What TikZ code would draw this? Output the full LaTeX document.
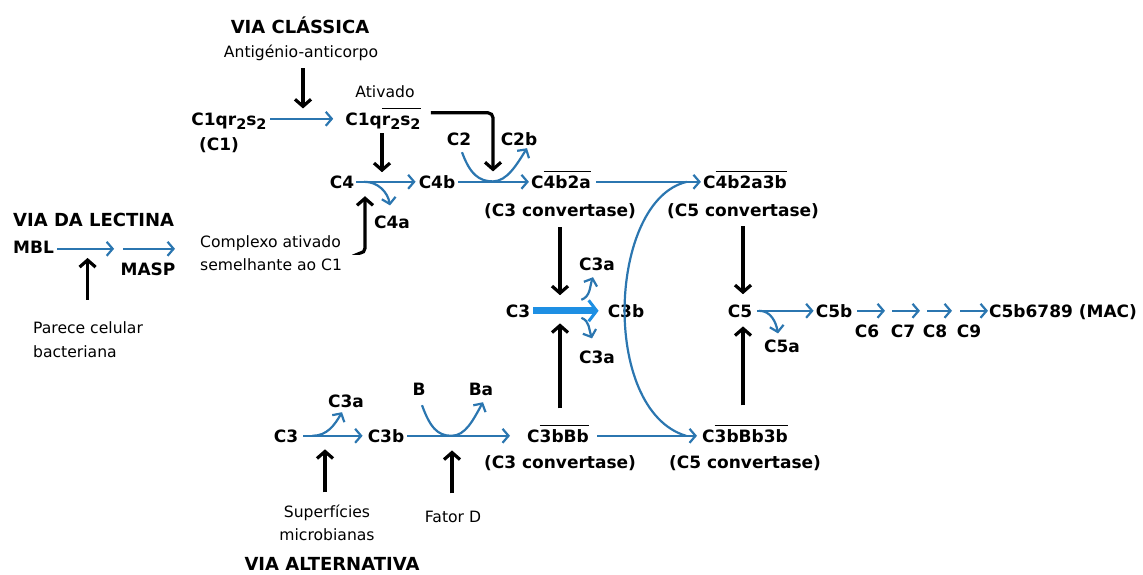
\documentclass[tikz,border=0pt]{standalone}
\usepackage{fontspec}
\setmainfont{DejaVu Sans}
\usetikzlibrary{arrows.meta,calc}
\definecolor{pathblue}{HTML}{2B76B0}
\definecolor{brightblue}{HTML}{1E8FE3}
% overline drawn as a rule above a group of characters
\newsavebox\ovlbox
\newcommand\ovl[1]{\sbox\ovlbox{#1}\rlap{\rule[0.92em]{\wd\ovlbox}{1.4pt}}\usebox\ovlbox}
% lowered index digit
\newcommand\sbs[1]{\raisebox{-0.45ex}{\fontsize{14.5}{14.5}\selectfont #1}}
\tikzset{
  lbl/.style={font=\bfseries\fontsize{17}{20}\selectfont, inner sep=0pt, anchor=base, text height=12.4pt, text depth=0pt},
  hd/.style={font=\bfseries\fontsize{18}{21}\selectfont, inner sep=0pt, anchor=base},
  note/.style={font=\fontsize{15.6}{18}\selectfont, inner sep=0pt, anchor=base},
  bar/.style={draw=pathblue, line width=2.2pt, -{Straight Barb[length=6pt,width=14pt]}},
  bline/.style={draw=pathblue, line width=2.2pt},
  bigbar/.style={draw=brightblue, line width=7pt, -{Straight Barb[length=8pt,width=21pt,line width=3pt]}},
  kar/.style={draw=black, line width=3.2pt, -{Straight Barb[length=7pt,width=16pt]}}
}
\begin{document}
\begin{tikzpicture}[x=1pt,y=-1pt]
\useasboundingbox (0,0) rectangle (1143,574);

% ---------- classical pathway ----------
\node[hd] (vc) at (300,33) {VIA CLÁSSICA};
\node[note] (ag) at (301,57) {Antigénio-anticorpo};
\node[lbl] (c1) at (229,125) {C1qr\sbs{2}s\sbs{2}};
\node[lbl] (c1p) at (219,150) {(C1)};
\node[note] (atv) at (385,97) {Ativado};
\node[lbl] (c1a) at (383,125) {C1q\ovl{r\sbs{2}s\sbs{2}}};
\node[lbl] (c2) at (459,145) {C2};
\node[lbl] (c2b) at (519,145) {C2b};
\node[lbl] (c4) at (342,188) {C4};
\node[lbl] (c4b) at (437,188) {C4b};
\node[lbl] (c4a) at (392,228) {C4a};
\node[lbl] (c42) at (561,188) {C\ovl{4b2a}};
\node[lbl] (cv1) at (560,216) {(C3 convertase)};
\node[lbl] (c423) at (745,188) {C\ovl{4b2a3b}};
\node[lbl] (cv2) at (743,216) {(C5 convertase)};

% ---------- lectin pathway ----------
\node[hd, anchor=base west] (vl) at (13,226) {VIA DA LECTINA};
\node[lbl, anchor=base west] (mbl) at (13,253) {MBL};
\node[lbl] (masp) at (148,275) {MASP};
\node[note, anchor=base west] (pc1) at (33,333) {Parece celular};
\node[note, anchor=base west] (pc2) at (33,357) {bacteriana};
\node[note, anchor=base west] (cx1) at (200,247) {Complexo ativado};
\node[note, anchor=base west] (cx2) at (200,270) {semelhante ao C1};

% ---------- C3 / C5 cleavage ----------
\node[lbl] (c3m) at (518,317) {C3};
\node[lbl] (c3bm) at (626,317) {C3b};
\node[lbl] (c3at) at (597,270) {C3a};
\node[lbl] (c3ab) at (597,363) {C3a};
\node[lbl] (c5) at (740,317) {C5};
\node[lbl] (c5b) at (834,317) {C5b};
\node[lbl] (c5a) at (782,352) {C5a};
\node[lbl] (c6) at (867,337) {C6};
\node[lbl] (c7) at (903,337) {C7};
\node[lbl] (c8) at (935,337) {C8};
\node[lbl] (c9) at (969,337) {C9};
\node[lbl] (mac) at (1063,317) {C5b6789 (MAC)};

% ---------- alternative pathway ----------
\node[lbl] (c3l) at (286,442) {C3};
\node[lbl] (c3al) at (346,407) {C3a};
\node[lbl] (c3bl) at (386,442) {C3b};
\node[lbl] (bb) at (419,395) {B};
\node[lbl] (bba) at (481,395) {Ba};
\node[lbl] (c3bbb) at (558,442) {C\ovl{3bBb}};
\node[lbl] (cv3) at (560,468) {(C3 convertase)};
\node[lbl] (c3b5) at (745,442) {C\ovl{3bBb3b}};
\node[lbl] (cv4) at (745,468) {(C5 convertase)};
\node[note] (sm1) at (327,517) {Superfícies};
\node[note] (sm2) at (327,540) {microbianas};
\node[note] (fd) at (453,522) {Fator D};
\node[hd] (va) at (332,570) {VIA ALTERNATIVA};

% ---------- blue reaction arrows ----------
\draw[bar, shorten <=3pt, shorten >=12pt] (c1) -- (c1a);
\draw[bar, shorten <=2pt, shorten >=3pt] (c4) -- (c4b);
\draw[bar] ($(c4.east)+(10,0)$) to[out=0,in=100] ($(c4a.north)+(-2,-10)$);
\draw[bar, shorten <=3pt, shorten >=2pt] (c4b) -- (c42);
\coordinate (j1) at ($(c42.north)+(-68,6)$);
\draw[bar] ($(c2.south)+(3,7)$) .. controls +(8,22) and +(-14,0) .. (j1)
           .. controls +(14,0) and +(-10,16) .. ($(c2b.south)+(8,3)$);
\draw[bar, shorten <=5pt, shorten >=2pt] (c42) -- (c423);
\coordinate (j2) at ($(c423.west)+(-16,0)$);
\coordinate (j3) at ($(c3b5.west)+(-16,0)$);
\draw[bline] (j2) .. controls (608,200) and (600,410) .. (j3);

\draw[bar] ($(mbl.east)+(3,2)$) -- ++(57,0);
\draw[bar] ($(masp.north)+(-25,-13.6)$) -- ++(52,0);

\draw[bigbar, shorten <=3pt, shorten >=9pt] (c3m) -- (c3bm);
\draw[bar] ($(c3m.east)+(51,-11)$) to[out=20,in=-110] ($(c3at.south)+(-4,7)$);
\draw[bar] ($(c3m.east)+(51,7)$) to[out=-20,in=110] ($(c3ab.north)+(-5,-12)$);

\draw[bar, shorten <=5pt, shorten >=2pt] (c5) -- (c5b);
\draw[bar] ($(c5.east)+(7,0)$) to[out=0,in=100] ($(c5a.north)+(-4,-6)$);
\draw[bar] ($(c6.north)+(-10,-13.6)$) -- ++(28,0);
\draw[bar] ($(c7.north)+(-11,-13.6)$) -- ++(28,0);
\draw[bar] ($(c8.north)+(-8,-13.6)$) -- ++(25,0);
\draw[bar] ($(c9.north)+(-9,-13.6)$) -- ++(28,0);

\draw[bar, shorten <=5pt, shorten >=5pt] (c3l) -- (c3bl);
\draw[bar] ($(c3l.east)+(14,0)$) to[out=0,in=-120] ($(c3al.south)+(-4,5)$);
\draw[bar, shorten <=3pt, shorten >=17pt] (c3bl) -- (c3bbb);
\coordinate (j4) at ($(c3bl.east)+(47,0)$);
\draw[bar] ($(bb.south)+(3,10)$) .. controls +(8,22) and +(-14,0) .. (j4)
           .. controls +(14,0) and +(-10,18) .. ($(bba.south)+(2,7)$);
\draw[bar, shorten <=8pt, shorten >=5pt] (c3bbb) -- (c3b5);

% ---------- black activating arrows ----------
\draw[kar] ($(ag.south)+(2,8)$) -- ++(0,40);
\draw[kar] ($(c1a.south)+(-1,8)$) -- ++(0,39);
\draw[kar, rounded corners=5pt] ($(c1a.east)+(10,-6)$) -| ($(c42.north)+(-68,-4)$);
\draw[kar, rounded corners=5pt] ($(cx2.east)+(18,-11)$) -| ($(c4.south)+(23,8)$);
\draw[kar] ($(cv1.south)+(0,11)$) -- ++(0,68);
\draw[kar] ($(c3bbb.north)+(2,-21)$) -- ++(0,-85);
\draw[kar] ($(cv2.south)+(0,10)$) -- ++(0,68);
\draw[kar] ($(c3b5.north)+(-2,-24)$) -- ++(0,-79);
\draw[kar] ($(pc1.north)+(-0.5,-21)$) -- ++(0,-42);
\draw[kar] ($(sm1.north)+(-2,-12)$) -- ++(0,-43);
\draw[kar] ($(fd.north)+(-1,-17)$) -- ++(0,-43);
\end{tikzpicture}
\end{document}
